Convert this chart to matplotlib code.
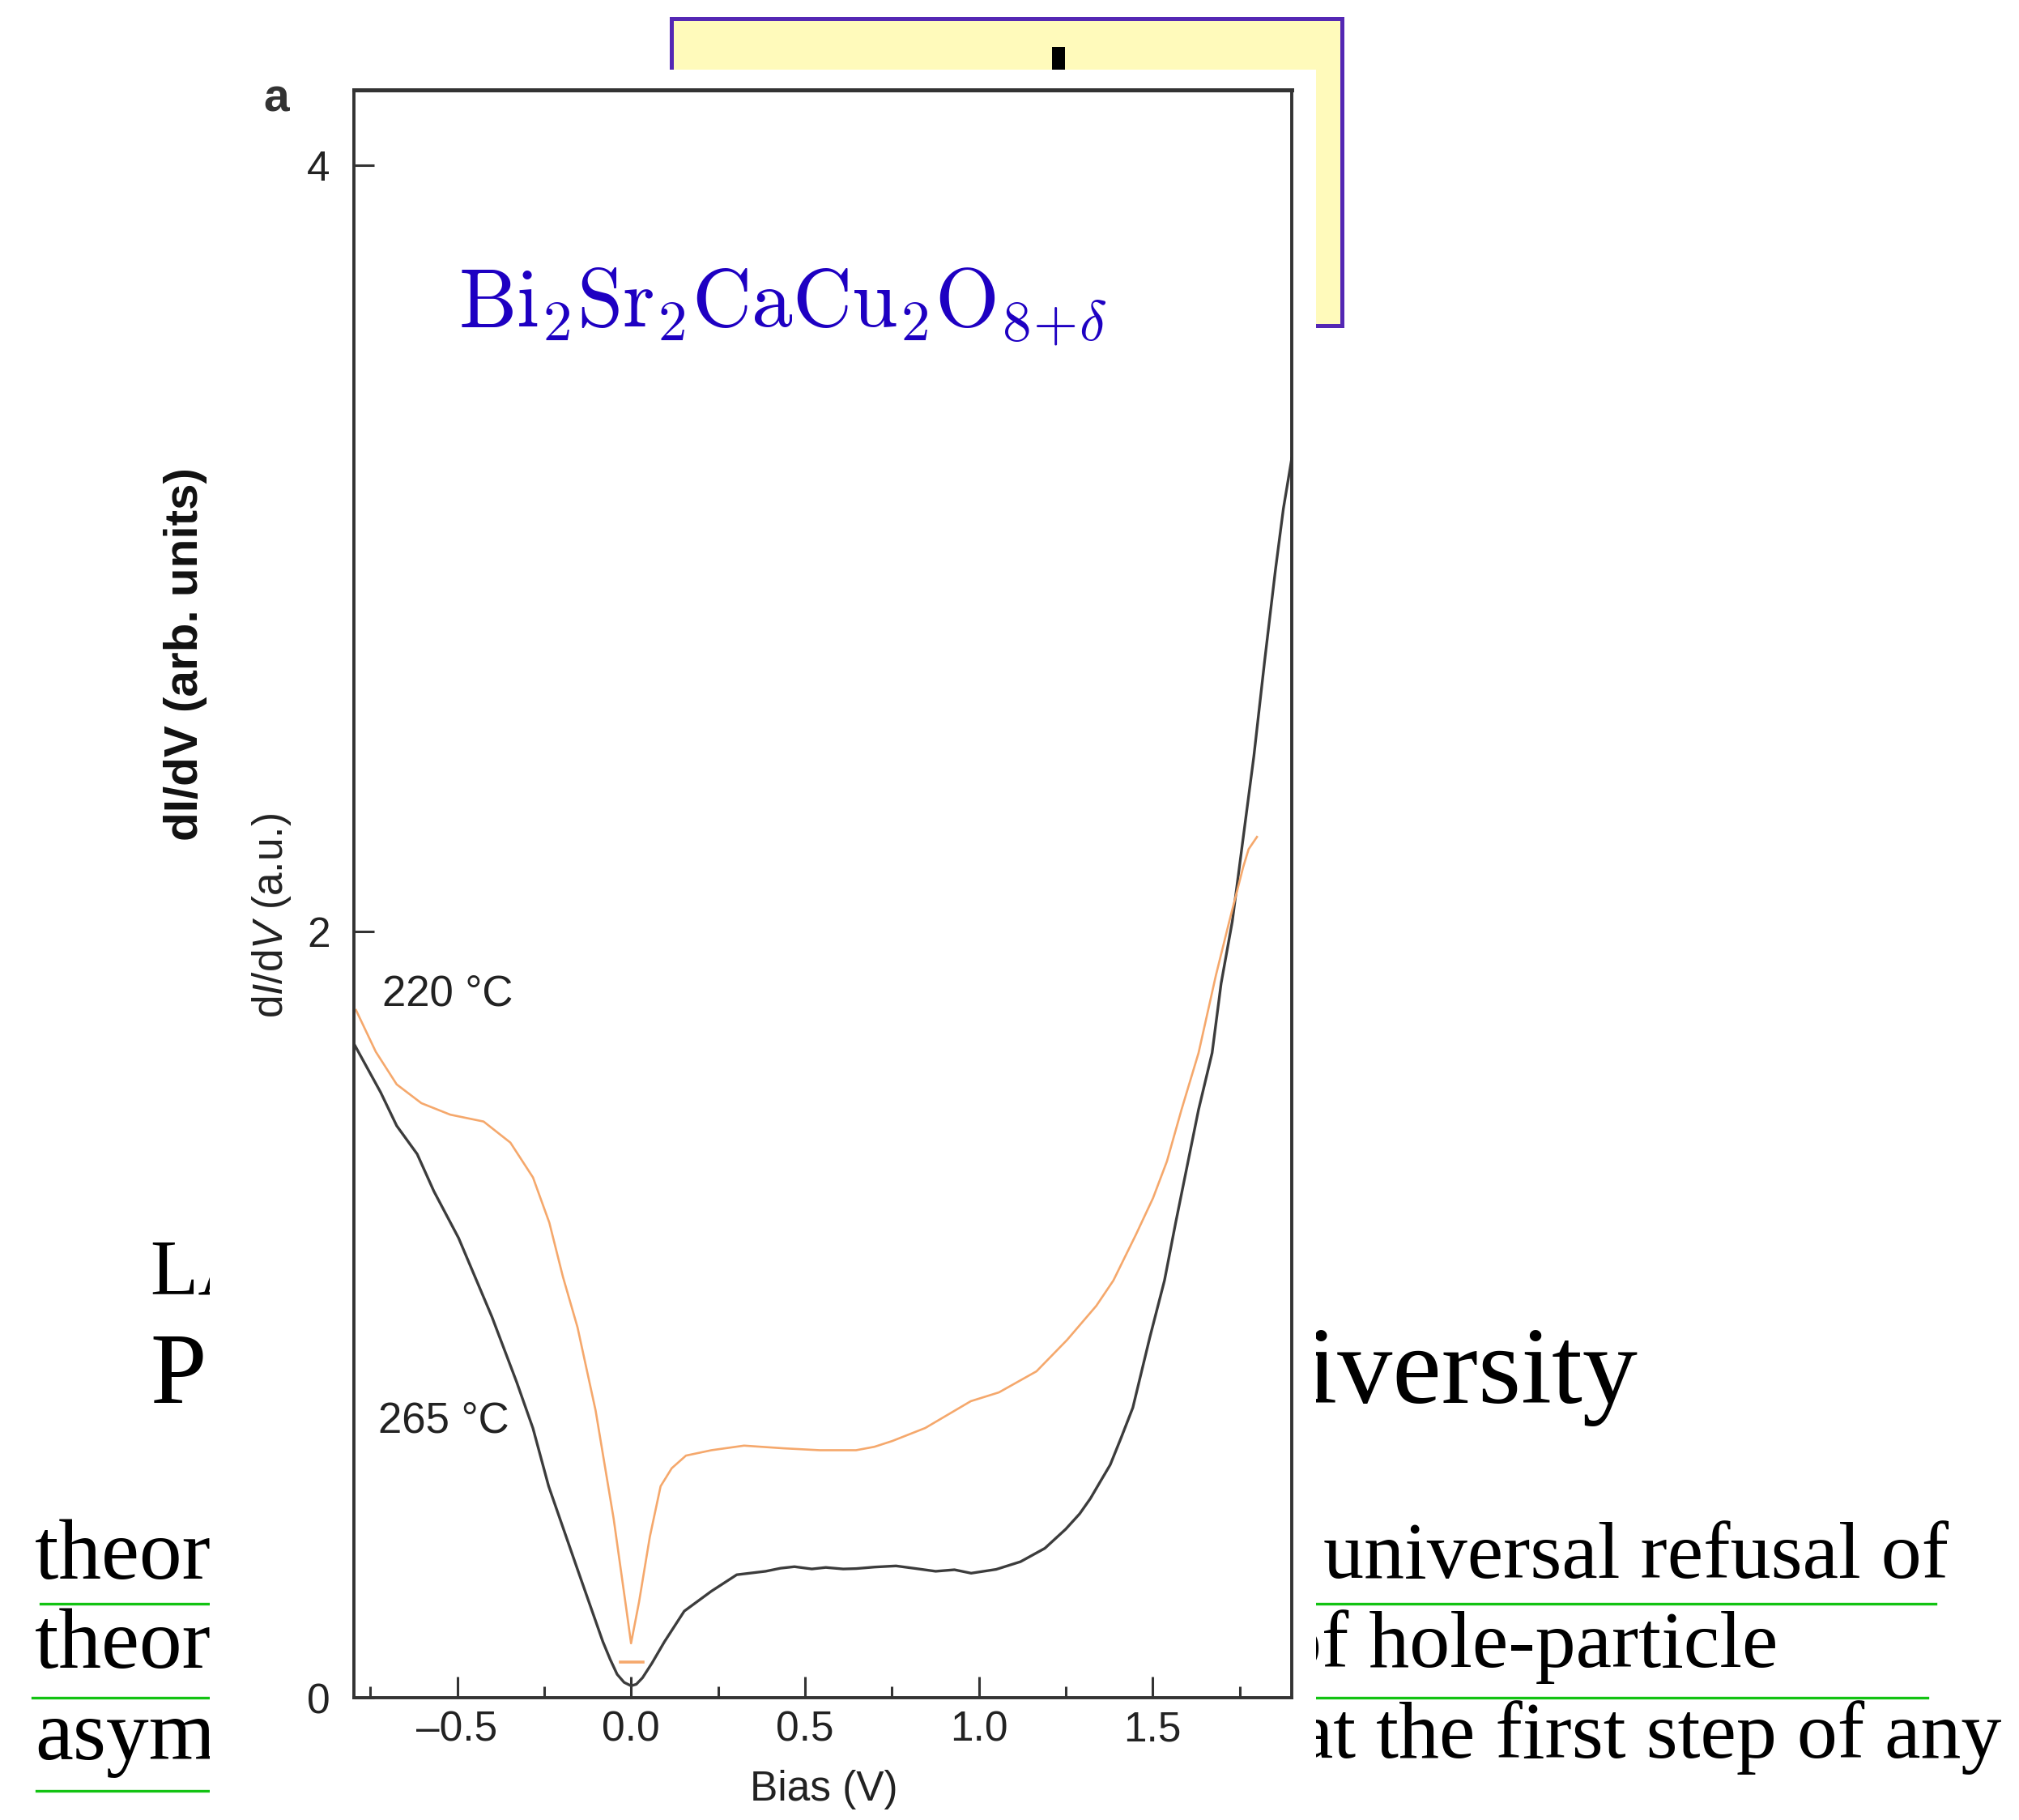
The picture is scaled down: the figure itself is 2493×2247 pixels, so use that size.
import matplotlib
matplotlib.use("Agg")
import matplotlib.pyplot as plt
from matplotlib.patches import Rectangle
from matplotlib.lines import Line2D

W, H = 2493, 2247

# spectra (bias in V, dI/dV in arb. units)
bias_220 = [-0.791, -0.734, -0.674, -0.603, -0.52, -0.424, -0.347, -0.282, -0.235, -0.196,
            -0.154, -0.102, -0.05, -0.0135, 0.0, 0.023, 0.054, 0.085, 0.117, 0.158,
            0.231, 0.325, 0.439, 0.543, 0.647, 0.70, 0.751, 0.846, 0.977, 1.058,
            1.166, 1.254, 1.338, 1.387, 1.452, 1.501, 1.541, 1.583, 1.632, 1.682,
            1.72, 1.76, 1.776, 1.80]
didv_220 = [1.795, 1.686, 1.601, 1.552, 1.522, 1.504, 1.449, 1.358, 1.24, 1.099,
            0.967, 0.75, 0.467, 0.231, 0.142, 0.25, 0.42, 0.552, 0.599, 0.632,
            0.646, 0.658, 0.651, 0.646, 0.646, 0.655, 0.67, 0.704, 0.774, 0.797,
            0.852, 0.934, 1.023, 1.089, 1.209, 1.304, 1.40, 1.535, 1.683, 1.886,
            2.025, 2.167, 2.215, 2.247]

bias_265 = [-0.795, -0.72, -0.674, -0.615, -0.567, -0.496, -0.40, -0.329, -0.282, -0.237,
            -0.154, -0.081, -0.06, -0.040, -0.02, 0.0, 0.015, 0.033, 0.06, 0.096,
            0.153, 0.231, 0.304, 0.387, 0.43, 0.47, 0.52, 0.56, 0.61, 0.647,
            0.70, 0.762, 0.82, 0.876, 0.93, 0.978, 1.05, 1.12, 1.19, 1.25,
            1.29, 1.321, 1.35, 1.378, 1.41, 1.443, 1.492, 1.534, 1.566, 1.599,
            1.632, 1.671, 1.697, 1.729, 1.760, 1.791, 1.822, 1.853, 1.876, 1.90]
didv_265 = [1.704, 1.58, 1.493, 1.419, 1.322, 1.20, 0.994, 0.824, 0.703, 0.552,
            0.335, 0.146, 0.10, 0.061, 0.04, 0.031, 0.035, 0.052, 0.09, 0.146,
            0.226, 0.278, 0.321, 0.330, 0.338, 0.342, 0.336, 0.340, 0.336, 0.337,
            0.341, 0.344, 0.337, 0.330, 0.334, 0.325, 0.335, 0.355, 0.39, 0.44,
            0.48, 0.52, 0.565, 0.608, 0.68, 0.757, 0.941, 1.089, 1.239, 1.387,
            1.535, 1.683, 1.865, 2.026, 2.242, 2.457, 2.706, 2.943, 3.104, 3.235]

# little orange dash under the 220 C minimum
dash_bias = [-0.031, 0.035]
dash_didv = [0.094, 0.094]

x_ticks = [-0.5, 0.0, 0.5, 1.0, 1.5]
x_minor = [-0.75, -0.25, 0.25, 0.75, 1.25, 1.75]
y_ticks = [0, 2, 4]
curve_labels = ["220 °C", "265 °C"]

# slide text peeking out around the figure
left_words = ["LA", "P", "theor", "theor", "asym"]
right_words = ["University", "universal refusal of", "of hole-particle", "that the first step of any"]

plt.rcParams["font.family"] = "Liberation Sans"
plt.rcParams["mathtext.fontset"] = "custom"
plt.rcParams["mathtext.rm"] = "Liberation Sans"
plt.rcParams["mathtext.it"] = "Liberation Sans:italic"

fig = plt.figure(figsize=(W / 100, H / 100), dpi=100)


def fx(x):
    return x / W


def fy(y):
    return 1 - y / H


def box(x0, y0, x1, y1, **kw):
    fig.add_artist(Rectangle((fx(x0), fy(y1)), (x1 - x0) / W, (y1 - y0) / H,
                             transform=fig.transFigure, **kw))


def hline(x0, x1, y, **kw):
    fig.add_artist(Line2D([fx(x0), fx(x1)], [fy(y), fy(y)], transform=fig.transFigure, **kw))


# --- slide underneath ---
box(829, 23, 1657, 402, facecolor="#fffabb", edgecolor="#5427b4", linewidth=3.6, zorder=-3)
box(1299, 58, 1315, 95, facecolor="black", edgecolor="none", zorder=-2.5)

serif = "Liberation Serif"
slide = dict(family=serif, color="black", va="baseline", zorder=-2)
fig.text(fx(185), fy(1597), left_words[0], size=70, **slide)
fig.text(fx(185), fy(1732), left_words[1], size=90, **slide)
fig.text(fx(43), fy(1949), left_words[2], size=76, **slide)
fig.text(fx(43), fy(2059), left_words[3], size=76, **slide)
fig.text(fx(43), fy(2172), left_words[4], size=76, **slide)

fig.text(fx(2022), fy(1732), right_words[0], size=98, ha="right", **slide)
fig.text(fx(2406), fy(1948), right_words[1], size=72, ha="right", **slide)
fig.text(fx(2195), fy(2058), right_words[2], size=72, ha="right", **slide)
fig.text(fx(2471), fy(2170), right_words[3], size=72, ha="right", **slide)

green = dict(color="#12c312", linewidth=2.4, zorder=-2)
hline(50, 270, 1980, **green)
hline(40, 270, 2096, **green)
hline(45, 270, 2211, **green)
hline(1610, 2390, 1980, **green)
hline(1610, 2380, 2096, **green)

# white panel of the pasted figure
box(259, 86, 1625, H + 10, facecolor="white", edgecolor="none", zorder=-1)

# --- the plot ---
ax = fig.add_axes([fx(437), fy(2096), (1595 - 437) / W, (2096 - 111) / H])
ax.plot(bias_265, didv_265, color="#3c3c3c", linewidth=2.4)
ax.plot(bias_220, didv_220, color="#f5a86c", linewidth=1.9)
ax.plot(dash_bias, dash_didv, color="#f5a86c", linewidth=2.6)

ax.set_xlim(-0.797, 1.90)
ax.set_ylim(0, 4.197)
ax.set_xticks(x_ticks)
ax.set_xticks(x_minor, minor=True)
ax.set_xticklabels([f"{t:.1f}".replace("-", "\u2013") for t in x_ticks])
ax.set_yticks(y_ticks)
ax.set_yticklabels([str(t) for t in y_ticks])

for side in ax.spines.values():
    side.set_linewidth(2.8)
    side.set_color("#333333")
ax.spines["top"].set_linewidth(3.6)

ax.tick_params(axis="x", which="major", direction="in", length=19, width=2.2, pad=11,
               labelsize=37, color="#333333", labelcolor="#222222")
ax.tick_params(axis="x", which="minor", direction="in", length=10, width=2.2, color="#333333")
ax.tick_params(axis="y", which="major", direction="in", length=18, width=2.2, pad=21,
               labelsize=37, color="#333333", labelcolor="#222222")

ax.text(-0.716, 1.837, curve_labels[0], size=38, va="center", color="#222222")
ax.text(-0.727, 0.723, curve_labels[1], size=38, va="center", color="#222222")

fig.text(fx(1017), fy(2210), "Bias (V)", size=37, ha="center", va="center", color="#222222")
fig.text(fx(335), fy(1131), r"d$I$/d$V$ (a.u.)", size=37, rotation=90,
         ha="center", va="center", color="#222222")
fig.text(fx(229), fy(808), "dI/dV (arb. units)", size=42, weight="bold", rotation=90,
         ha="center", va="center", color="#111111")
fig.text(fx(341), fy(122), "a", size=41, weight="bold", ha="center", va="center", color="#333333")

fig.text(fx(566), fy(404), r"$\mathrm{Bi}_2\mathrm{Sr}_2\mathrm{CaCu}_2\mathrm{O}_{8\!+\!\delta}$",
         math_fontfamily="cm", size=73, color="#1e00c2", va="baseline")

fig.savefig("out.png", dpi=100)
